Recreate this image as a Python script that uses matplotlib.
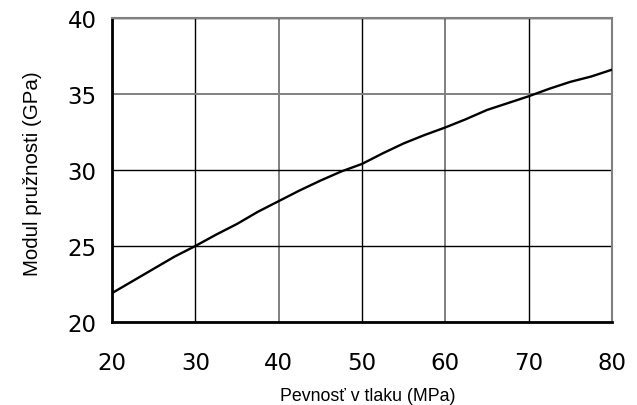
import matplotlib
matplotlib.use("Agg")
import matplotlib.pyplot as plt

x_vals = [20, 22.5, 25, 27.5, 30, 32.5, 35, 37.5, 40, 42.5, 45, 47.5, 50,
          52.5, 55, 57.5, 60, 62.5, 65, 67.5, 70, 72.5, 75, 77.5, 80]
y_vals = [21.9, 22.7, 23.5, 24.3, 25.0, 25.75, 26.45, 27.25, 27.95, 28.65, 29.3, 29.9, 30.4,
          31.1, 31.75, 32.3, 32.8, 33.35, 33.95, 34.4, 34.85, 35.35, 35.8, 36.15, 36.6]
x_ticks = [20, 30, 40, 50, 60, 70, 80]
y_ticks = [20, 25, 30, 35, 40]
x_label = "Pevnosť v tlaku (MPa)"
y_label = "Modul pružnosti (GPa)"

fig = plt.figure(figsize=(6.37, 4.06), dpi=100)
ax = fig.add_axes([112/637, 1 - 323/406, 500/637, 304/406])
ax.plot(x_vals, y_vals, color="black", lw=1.7, zorder=3)
ax.set_xlim(20, 80)
ax.set_ylim(20, 40)
ax.set_xticks(x_ticks)
ax.set_yticks(y_ticks)
ax.grid(True, color="black", lw=1)
ax.set_axisbelow(True)
gray = "#808080"
for t, gl in zip(x_ticks, ax.xaxis.get_gridlines()):
    if t in (40, 60):
        gl.set_color(gray)
        gl.set_linewidth(1.4)
for t, gl in zip(y_ticks, ax.yaxis.get_gridlines()):
    if t == 35:
        gl.set_color(gray)
        gl.set_linewidth(1.4)
ax.tick_params(length=0, labelsize=16.5)
ax.tick_params(axis="x", pad=21)
ax.tick_params(axis="y", pad=11)
for s in ["left", "bottom"]:
    ax.spines[s].set_linewidth(2)
    ax.spines[s].set_color("black")
for s in ["top", "right"]:
    ax.spines[s].set_linewidth(1.5)
    ax.spines[s].set_color(gray)
ax.set_xlabel(x_label, fontsize=12.8, family="Liberation Sans")
ax.set_ylabel(y_label, fontsize=14.8, family="Liberation Sans")
ax.xaxis.set_label_coords(0.512, -0.215)
ax.yaxis.set_label_coords(-0.14, 0.49)
fig.savefig("out.png", dpi=100)
